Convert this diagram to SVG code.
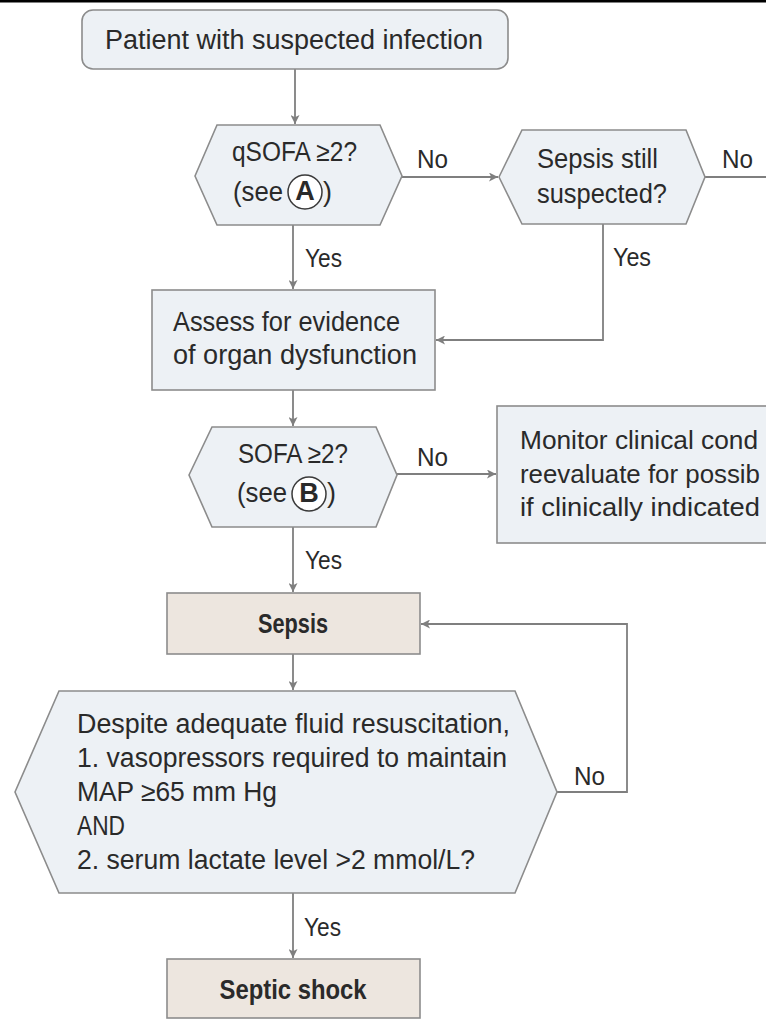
<svg xmlns="http://www.w3.org/2000/svg" width="766" height="1020" viewBox="0 0 766 1020">
<defs>
<style>
text{font-family:"Liberation Sans",Arial,sans-serif;font-size:27px;fill:#2a2a2a}
.b{font-weight:bold}
.box{fill:#edf1f5;stroke:#8c8c8c;stroke-width:1.6}
.tan{fill:#ede6df;stroke:#8c8c8c;stroke-width:1.6}
.c{fill:none;stroke:#7f7f7f;stroke-width:1.8}
.circ{fill:#ffffff;stroke:#3a3a3a;stroke-width:1.5}
.lab{font-size:26px}
.mon{font-size:26px}
</style>
<marker id="ah" viewBox="0 0 10 10" refX="10" refY="5" markerWidth="10" markerHeight="9" markerUnits="userSpaceOnUse" orient="auto">
<path d="M0,0 L10,5 L0,10 L2.5,5 z" fill="#7f7f7f"/>
</marker>
</defs>
<rect width="766" height="1020" fill="#ffffff"/>
<rect x="0" y="0" width="766" height="2.5" fill="#000000"/>

<g id="connectors">
<path class="c" d="M295,69 V124" marker-end="url(#ah)"/>
<path class="c" d="M402,177 H498" marker-end="url(#ah)"/>
<path class="c" d="M705,177 H766"/>
<path class="c" d="M293,225 V289" marker-end="url(#ah)"/>
<path class="c" d="M603,224 V340 H436" marker-end="url(#ah)"/>
<path class="c" d="M293,390 V426" marker-end="url(#ah)"/>
<path class="c" d="M397,474 H496" marker-end="url(#ah)"/>
<path class="c" d="M293,527 V592" marker-end="url(#ah)"/>
<path class="c" d="M293,654 V690" marker-end="url(#ah)"/>
<path class="c" d="M557,792 H627 V624 H421" marker-end="url(#ah)"/>
<path class="c" d="M293,893 V958" marker-end="url(#ah)"/>
<text class="lab" x="417" y="168" textLength="31" lengthAdjust="spacingAndGlyphs">No</text>
<text class="lab" x="722" y="168" textLength="31" lengthAdjust="spacingAndGlyphs">No</text>
<text class="lab" x="305" y="267" textLength="37" lengthAdjust="spacingAndGlyphs">Yes</text>
<text class="lab" x="613" y="266" textLength="38" lengthAdjust="spacingAndGlyphs">Yes</text>
<text class="lab" x="417" y="466" textLength="31" lengthAdjust="spacingAndGlyphs">No</text>
<text class="lab" x="305" y="569" textLength="37" lengthAdjust="spacingAndGlyphs">Yes</text>
<text class="lab" x="574" y="785" textLength="31" lengthAdjust="spacingAndGlyphs">No</text>
<text class="lab" x="304" y="936" textLength="37" lengthAdjust="spacingAndGlyphs">Yes</text>
</g>

<g id="start">
<rect class="box" x="82" y="10" width="426" height="59" rx="11"/>
<text x="105" y="49" font-size="29" textLength="378" lengthAdjust="spacingAndGlyphs">Patient with suspected infection</text>
</g>

<g id="qsofa">
<polygon class="box" points="195,176 217,125 380,125 402,176 380,225 217,225"/>
<text x="232" y="161" textLength="125" lengthAdjust="spacingAndGlyphs">qSOFA ≥2?</text>
<text x="233" y="201" textLength="50" lengthAdjust="spacingAndGlyphs">(see</text>
<circle class="circ" cx="305" cy="192" r="17"/>
<text class="b" x="305" y="200" font-size="22" text-anchor="middle">A</text>
<text x="323" y="201">)</text>
</g>

<g id="sepsis-suspected">
<polygon class="box" points="499,177 522,130 686,130 705,177 686,224 522,224"/>
<text x="537" y="168" textLength="121" lengthAdjust="spacingAndGlyphs">Sepsis still</text>
<text x="537" y="203" textLength="130" lengthAdjust="spacingAndGlyphs">suspected?</text>
</g>

<g id="assess">
<rect class="box" x="152" y="290" width="283" height="100"/>
<text x="173" y="331" textLength="227" lengthAdjust="spacingAndGlyphs">Assess for evidence</text>
<text x="173" y="364" textLength="244" lengthAdjust="spacingAndGlyphs">of organ dysfunction</text>
</g>

<g id="sofa">
<polygon class="box" points="189,475 212,427 376,427 397,475 376,527 212,527"/>
<text x="238" y="463" textLength="110" lengthAdjust="spacingAndGlyphs">SOFA ≥2?</text>
<text x="237" y="502" textLength="50" lengthAdjust="spacingAndGlyphs">(see</text>
<circle class="circ" cx="309" cy="494" r="17"/>
<text class="b" x="309" y="502" font-size="22" text-anchor="middle">B</text>
<text x="327" y="502">)</text>
</g>

<g id="monitor">
<rect class="box" x="497" y="406" width="300" height="137"/>
<text class="mon" x="520" y="449" textLength="238" lengthAdjust="spacingAndGlyphs">Monitor clinical cond</text>
<text class="mon" x="520" y="483" textLength="240" lengthAdjust="spacingAndGlyphs">reevaluate for possib</text>
<text class="mon" x="520" y="516" textLength="240" lengthAdjust="spacingAndGlyphs">if clinically indicated</text>
</g>

<g id="sepsis">
<rect class="tan" x="167" y="593" width="253" height="61"/>
<text class="b" x="293" y="633" text-anchor="middle" textLength="70" lengthAdjust="spacingAndGlyphs">Sepsis</text>
</g>

<g id="shock-criteria">
<polygon class="box" points="15,792 59,691 515,691 557,792 515,893 59,893"/>
<text x="77" y="733" textLength="433" lengthAdjust="spacingAndGlyphs">Despite adequate fluid resuscitation,</text>
<text x="77" y="767" textLength="430" lengthAdjust="spacingAndGlyphs">1. vasopressors required to maintain</text>
<text x="77" y="801" textLength="200" lengthAdjust="spacingAndGlyphs">MAP ≥65 mm Hg</text>
<text x="77" y="835" textLength="48" lengthAdjust="spacingAndGlyphs">AND</text>
<text x="77" y="869" textLength="398" lengthAdjust="spacingAndGlyphs">2. serum lactate level &gt;2 mmol/L?</text>
</g>

<g id="septic-shock">
<rect class="tan" x="167" y="959" width="253" height="59"/>
<text class="b" x="293" y="999" text-anchor="middle" textLength="147" lengthAdjust="spacingAndGlyphs">Septic shock</text>
</g>
</svg>
